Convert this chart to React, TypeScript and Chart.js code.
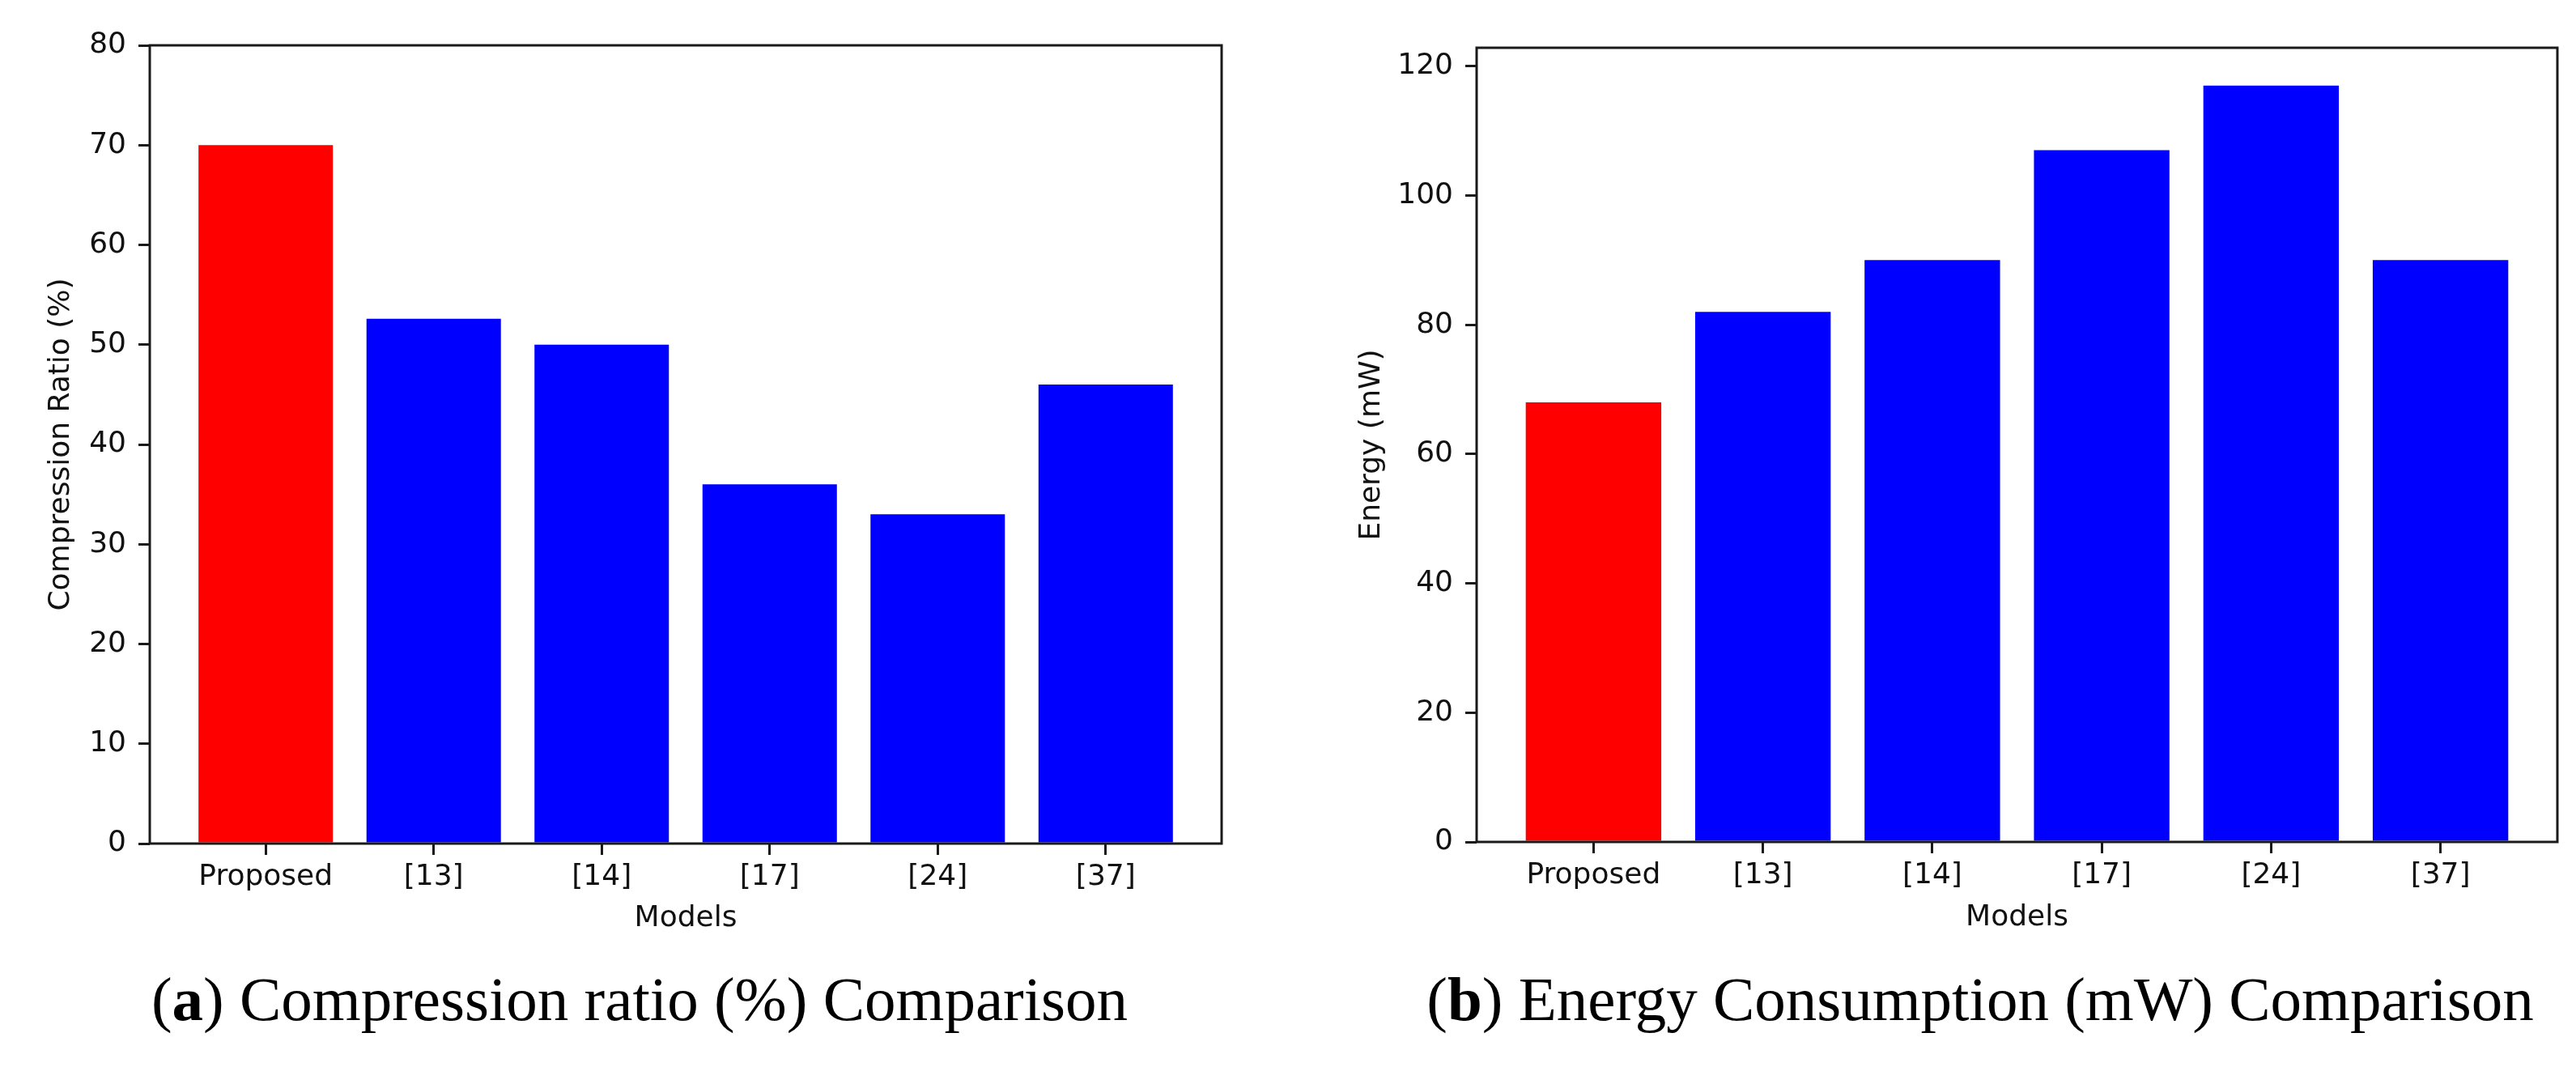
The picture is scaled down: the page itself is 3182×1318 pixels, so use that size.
import React, { useEffect, useRef } from "react";
import { Chart, registerables } from "chart.js";

Chart.register(...registerables);

const categories = ["Proposed", "[13]", "[14]", "[17]", "[24]", "[37]"];
const compressionValues = [70, 52.6, 50, 36, 33, 46];
const energyValues = [68, 82, 90, 107, 117, 90];
const barColors = ["#ff0000", "#0000ff", "#0000ff", "#0000ff", "#0000ff", "#0000ff"];
const compressionTicks = [0, 10, 20, 30, 40, 50, 60, 70, 80];
const energyTicks = [0, 20, 40, 60, 80, 100, 120];

const FONT = "'DejaVu Sans', sans-serif";

const framePlugin = {
  id: "frame",
  afterDatasetsDraw(chart: any) {
    const { ctx, chartArea } = chart;
    ctx.save();
    ctx.strokeStyle = "#1a1a1a";
    ctx.lineWidth = 3;
    ctx.strokeRect(chartArea.left, chartArea.top, chartArea.right - chartArea.left, chartArea.bottom - chartArea.top);
    ctx.restore();
  },
};

type Cfg = {
  values: number[];
  yMax: number;
  yTicks: number[];
  yTitle: string;
  padTop: number;
  padRight: number;
  yWidth: number;
  xHeight: number;
  yTitlePad: number;
  xTitlePad: number;
};

function BarPanel({ cfg, width, height }: { cfg: Cfg; width: number; height: number }) {
  const ref = useRef<HTMLCanvasElement | null>(null);
  useEffect(() => {
    if (!ref.current) return;
    const chart = new Chart(ref.current, {
      type: "bar",
      data: {
        datasets: [
          {
            data: cfg.values.map((v, i) => ({ x: i, y: v })),
            backgroundColor: barColors,
            borderWidth: 0,
            barPercentage: 0.8,
            categoryPercentage: 1.0,
          },
        ],
      },
      options: {
        animation: false,
        responsive: false,
        devicePixelRatio: 1,
        layout: { padding: { left: 0, top: cfg.padTop, right: cfg.padRight, bottom: 0 } },
        plugins: { legend: { display: false }, tooltip: { enabled: false } },
        scales: {
          x: {
            type: "linear",
            offset: false,
            min: -0.69,
            max: 5.69,
            afterBuildTicks: (scale: any) => {
              scale.ticks = categories.map((_, i) => ({ value: i }));
            },
            afterFit: (scale: any) => {
              scale.height = cfg.xHeight;
              scale.paddingLeft = 0;
              scale.paddingRight = 0;
            },
            grid: { display: true, offset: false, drawOnChartArea: false, drawTicks: true, tickLength: 14, color: "#1a1a1a", lineWidth: 3 },
            border: { display: false },
            ticks: {
              autoSkip: false,
              maxRotation: 0,
              padding: 6,
              color: "#111",
              font: { family: FONT, size: 36 },
              callback: (v: any) => categories[Math.round(Number(v))] ?? "",
            },
            title: { display: true, text: "Models", color: "#111", font: { family: FONT, size: 36 }, padding: { top: 0, bottom: cfg.xTitlePad } },
          },
          y: {
            type: "linear",
            min: 0,
            max: cfg.yMax,
            afterBuildTicks: (scale: any) => {
              scale.ticks = cfg.yTicks.map((t) => ({ value: t }));
            },
            afterFit: (scale: any) => {
              scale.width = cfg.yWidth;
            },
            grid: { display: true, drawOnChartArea: false, drawTicks: true, tickLength: 14, color: "#1a1a1a", lineWidth: 3 },
            border: { display: false },
            ticks: { padding: 15, color: "#111", font: { family: FONT, size: 36 } },
            title: { display: true, text: cfg.yTitle, color: "#111", font: { family: FONT, size: 36 }, padding: { top: cfg.yTitlePad, bottom: 0 } },
          },
        },
      } as any,
      plugins: [framePlugin],
    });
    return () => chart.destroy();
  }, []);
  return <canvas ref={ref} width={width} height={height} style={{ display: "block", width, height }} />;
}

const leftCfg: Cfg = {
  values: compressionValues,
  yMax: 80,
  yTicks: compressionTicks,
  yTitle: "Compression Ratio (%)",
  padTop: 56,
  padRight: 82,
  yWidth: 185,
  xHeight: 138,
  yTitlePad: 54,
  xTitlePad: 24,
};

const rightCfg: Cfg = {
  values: energyValues,
  yMax: 122.85,
  yTicks: energyTicks,
  yTitle: "Energy (mW)",
  padTop: 59,
  padRight: 23,
  yWidth: 233,
  xHeight: 140,
  yTitlePad: 82,
  xTitlePad: 25,
};

const captionStyle: React.CSSProperties = {
  position: "absolute",
  top: 1196,
  transform: "translateX(-50%)",
  whiteSpace: "nowrap",
  fontFamily: "'Liberation Serif', serif",
  fontSize: 77,
  lineHeight: "77px",
  color: "#000",
};

export default function App() {
  return (
    <div style={{ position: "absolute", left: 0, top: 0, width: 3182, height: 1318, background: "#fff", overflow: "hidden" }}>
      <div style={{ position: "absolute", left: 0, top: 0 }}>
        <BarPanel cfg={leftCfg} width={1591} height={1180} />
      </div>
      <div style={{ position: "absolute", left: 1591, top: 0 }}>
        <BarPanel cfg={rightCfg} width={1591} height={1180} />
      </div>
      <div style={{ ...captionStyle, left: 790 }}>
        (<b>a</b>) Compression ratio (%) Comparison
      </div>
      <div style={{ ...captionStyle, left: 2446 }}>
        (<b>b</b>) Energy Consumption (mW) Comparison
      </div>
    </div>
  );
}
